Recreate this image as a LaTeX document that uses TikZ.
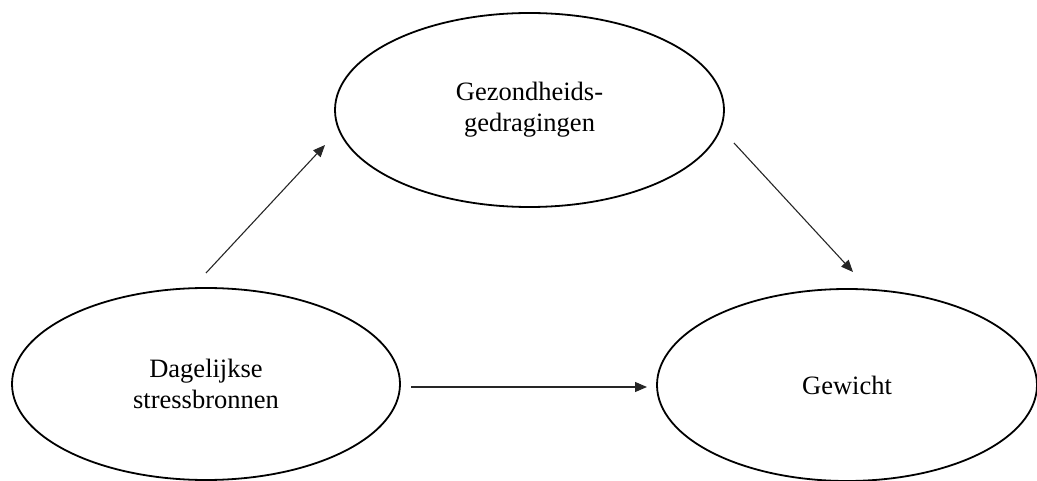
\documentclass[tikz,border=0pt]{standalone}
\usepackage{fontspec}
\setmainfont{Liberation Serif}
\usetikzlibrary{shapes.geometric,arrows.meta}
\begin{document}
\begin{tikzpicture}[x=1pt,y=-1pt,
  factor/.style={ellipse,draw=black,line width=1.8pt,inner sep=0pt,
    align=center,font=\fontsize{26.5}{31}\selectfont},
  link/.style={line width=1.1pt,draw=black!85,
    -{Triangle[length=12pt,width=10pt]}}]
  \useasboundingbox (0,0) rectangle (1037,481);
  \begin{scope}
    \clip (0,0) rectangle (1037,481);
    \node[factor,minimum width=389pt,minimum height=194pt] (gedrag) at (529.5,110)
      {Gezondheids-\\gedragingen};
    \node[factor,minimum width=388pt,minimum height=192pt] (stress) at (206,384)
      {Dagelijkse\\stressbronnen};
    \node[factor,minimum width=380pt,minimum height=192pt] (gewicht) at (847,385)
      {Gewicht};
  \end{scope}
  % free ends of the connectors
  \coordinate (s1) at (206,273);
  \coordinate (t1) at (325,145);
  \coordinate (s2) at (734,143);
  \coordinate (t2) at (853,272);
  \coordinate (s3) at (411,387);
  \coordinate (t3) at (647,387);
  \draw[link] (s1) -- (t1);
  \draw[link] (s2) -- (t2);
  \draw[link] (s3) -- (t3);
\end{tikzpicture}
\end{document}
